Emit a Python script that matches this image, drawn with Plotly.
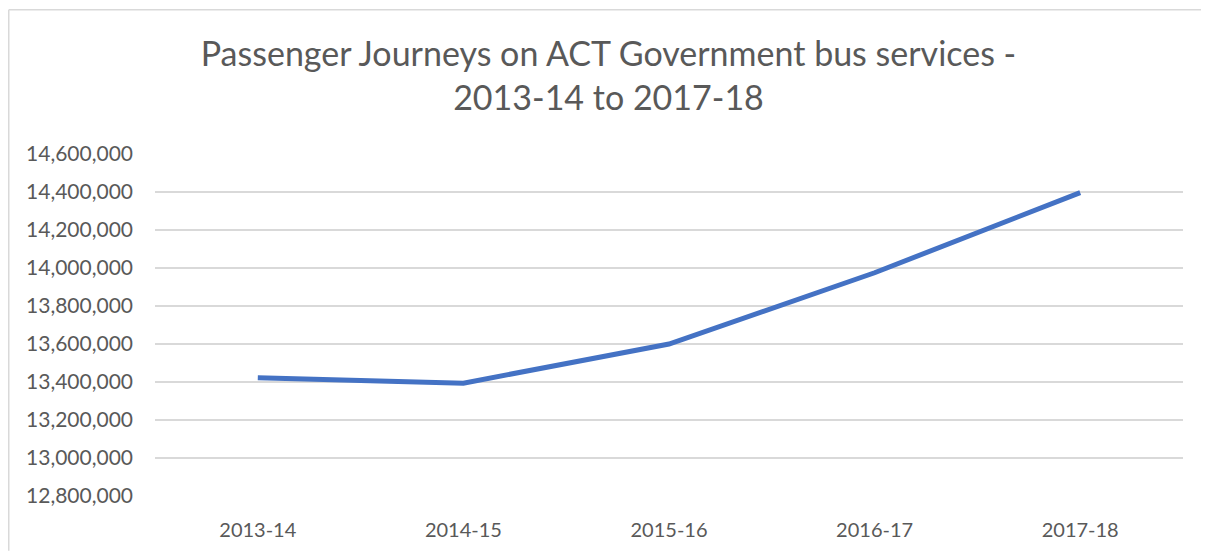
import plotly.graph_objects as go

years = ["2013-14", "2014-15", "2015-16", "2016-17", "2017-18"]
journeys = [13422000, 13394000, 13600000, 13975000, 14397000]
y_ticks = [12800000, 13000000, 13200000, 13400000, 13600000, 13800000,
           14000000, 14200000, 14400000, 14600000]
title_text = "Passenger Journeys on ACT Government bus services -<br>2013-14 to 2017-18"

# page body has an 8px margin, so the figure starts at (8, 8) on the page
W, H = 1201, 545
L, R, T, B = 147, 26, 146, 55
pw = W - L - R
ph = H - T - B

fig = go.Figure()
fig.add_trace(go.Scatter(
    x=years, y=journeys, mode="lines",
    line=dict(color="#4472C4", width=5),
    hoverinfo="x+y", showlegend=False,
))

border = dict(color="#d9d9d9", width=1.5)
fig.update_layout(
    width=W, height=H,
    margin=dict(l=L, r=R, t=T, b=B),
    paper_bgcolor="white", plot_bgcolor="white",
    font=dict(family="Lato, Open Sans, sans-serif", color="#595959"),
    title=dict(
        text=title_text, x=0.5, xanchor="center",
        yref="container", y=1 - 58 / H, yanchor="top",
        font=dict(size=34, color="#595959", family="Lato, Open Sans, sans-serif"),
    ),
    xaxis=dict(
        showgrid=False, zeroline=False, showline=False,
        range=[-0.5, len(years) - 0.5],
        tickfont=dict(size=20), ticklabelstandoff=20,
    ),
    yaxis=dict(
        range=[y_ticks[0], y_ticks[-1]], tickvals=y_ticks,
        tickformat=",d", showgrid=True, gridcolor="#d9d9d9", gridwidth=1.5,
        zeroline=False, showline=False,
        tickfont=dict(size=21), ticklabelstandoff=21,
    ),
    shapes=[
        dict(type="line", xref="paper", yref="paper",
             x0=(0.75 - L) / pw, x1=(W - L) / pw,
             y0=(ph + T - 1) / ph, y1=(ph + T - 1) / ph,
             line=border, layer="below"),
        dict(type="line", xref="paper", yref="paper",
             x0=(0.75 - L) / pw, x1=(0.75 - L) / pw,
             y0=-B / ph, y1=(ph + T - 1) / ph,
             line=border, layer="below"),
    ],
)

fig.write_html("out.html")
